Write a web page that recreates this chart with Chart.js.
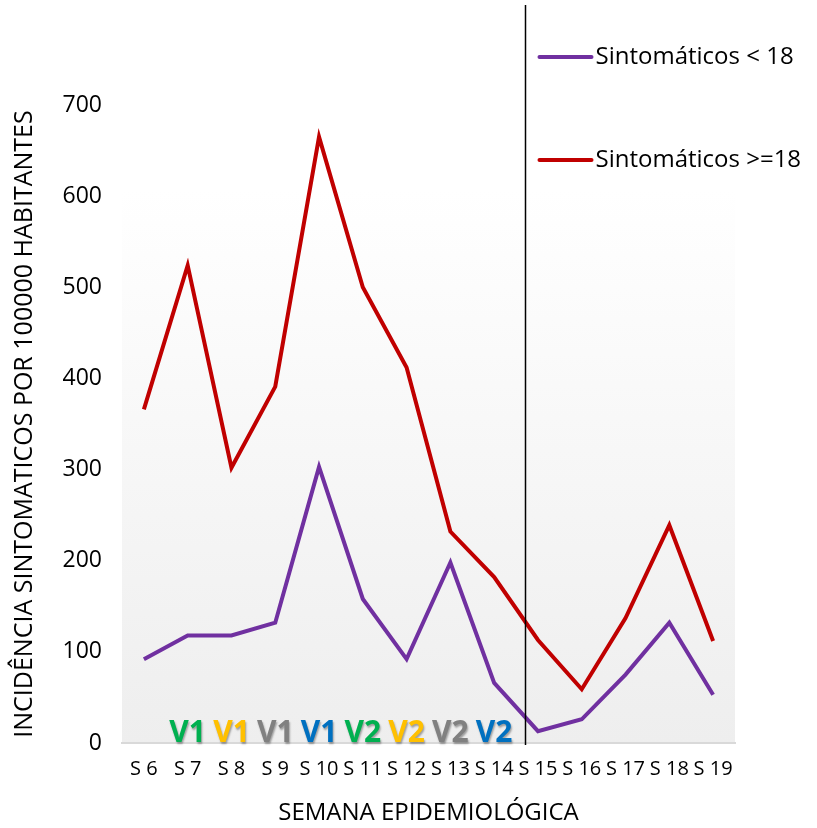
<!DOCTYPE html>
<html>
<head>
<meta charset="utf-8">
<script src="https://cdn.jsdelivr.net/npm/chart.js@4"></script>
<style>
  body { margin: 0; background: #fff; }
  #wrap { width: 817px; height: 828px; }
</style>
</head>
<body>
<div id="wrap"><canvas id="myChart"></canvas></div>
<script>
const semanas = ["S 6", "S 7", "S 8", "S 9", "S 10", "S 11", "S 12", "S 13", "S 14", "S 15", "S 16", "S 17", "S 18", "S 19"];
const menores18 = [92, 118, 118, 132, 303, 158, 92, 198, 66, 13, 26, 75, 132, 53];
const mayores18 = [366, 524, 302, 391, 665, 500, 412, 232, 182, 113, 59, 137, 239, 112];
const yTicks = [0, 100, 200, 300, 400, 500, 600, 700];

// vaccine labels under S7..S14
const vacunas = ["V1", "V1", "V1", "V1", "V2", "V2", "V2", "V2"];
const vacunaSemanas = ["S 7", "S 8", "S 9", "S 10", "S 11", "S 12", "S 13", "S 14"];
const vacunaColores = ["#00B050", "#FFC000", "#808080", "#0070C0", "#00B050", "#FFC000", "#808080", "#0070C0"];

const font = "'Open Sans', sans-serif";

const fondo = {
  id: "fondo",
  beforeDraw(chart) {
    const { ctx, chartArea: a } = chart;
    const top = a.top + 85;
    const g = ctx.createLinearGradient(0, top, 0, a.bottom);
    g.addColorStop(0, "#ffffff");
    g.addColorStop(1, "#eeeeee");
    ctx.save();
    ctx.fillStyle = g;
    ctx.fillRect(a.left, top, a.right - a.left, a.bottom - top);
    ctx.restore();
  }
};

const extras = {
  id: "extras",
  afterDatasetsDraw(chart) {
    const { ctx, chartArea: a, scales } = chart;
    const x = scales.x;
    ctx.save();
    // vaccine labels
    ctx.font = "bold 30px " + font;
    ctx.textAlign = "center";
    ctx.textBaseline = "alphabetic";
    vacunas.forEach((v, i) => {
      const px = x.getPixelForValue(semanas.indexOf(vacunaSemanas[i]));
      ctx.shadowColor = "rgba(0,0,0,0.35)";
      ctx.shadowOffsetX = 1;
      ctx.shadowOffsetY = 2;
      ctx.shadowBlur = 2;
      ctx.fillStyle = vacunaColores[i];
      ctx.fillText(v, px, a.bottom - 1);
    });
    ctx.shadowColor = "transparent";
    // vertical divider between S 14 and S 15
    const step = x.getPixelForValue(1) - x.getPixelForValue(0);
    const lx = Math.round(x.getPixelForValue(8) + 0.7 * step) + 0.5;
    ctx.strokeStyle = "#000";
    ctx.lineWidth = 1.5;
    ctx.beginPath();
    ctx.moveTo(lx, 5);
    ctx.lineTo(lx, a.bottom + 2);
    ctx.stroke();
    // legend
    const items = [
      { t: "Sintomáticos < 18", c: "#7030A0", yy: 57 },
      { t: "Sintomáticos >=18", c: "#C00000", yy: 160 }
    ];
    ctx.font = "24px " + font;
    ctx.textAlign = "left";
    ctx.textBaseline = "middle";
    items.forEach(it => {
      ctx.strokeStyle = it.c;
      ctx.lineWidth = 4;
      ctx.lineCap = "round";
      ctx.beginPath();
      ctx.moveTo(lx + 14, it.yy);
      ctx.lineTo(lx + 66, it.yy);
      ctx.stroke();
      ctx.fillStyle = "#000";
      ctx.fillText(it.t, lx + 70, it.yy);
    });
    ctx.restore();
  }
};

new Chart(document.getElementById("myChart"), {
  type: "line",
  data: {
    labels: semanas,
    datasets: [
      {
        label: "Sintomáticos < 18",
        data: menores18,
        borderColor: "#7030A0",
        borderWidth: 4,
        pointRadius: 0,
        tension: 0
      },
      {
        label: "Sintomáticos >=18",
        data: mayores18,
        borderColor: "#C00000",
        borderWidth: 4,
        pointRadius: 0,
        tension: 0
      }
    ]
  },
  options: {
    responsive: true,
    maintainAspectRatio: false,
    animation: false,
    layout: { padding: { top: 105, right: 82, left: 0, bottom: 0 } },
    plugins: {
      legend: { display: false },
      tooltip: { enabled: false }
    },
    scales: {
      x: {
        offset: true,
        grid: { display: false, drawTicks: false },
        border: { display: true, color: "#d9d9d9", width: 2 },
        ticks: {
          autoSkip: false,
          maxRotation: 0,
          minRotation: 0,
          padding: 14,
          color: "#000",
          font: { family: font, size: 20 }
        },
        title: {
          display: true,
          text: "SEMANA EPIDEMIOLÓGICA",
          color: "#000",
          font: { family: font, size: 24 },
          padding: { top: 10, bottom: 0 }
        },
        afterFit(s) { s.height = 85; }
      },
      y: {
        min: 0,
        max: 700,
        afterBuildTicks(s) { s.ticks = yTicks.map(v => ({ value: v })); },
        grid: { display: false, drawTicks: false },
        border: { display: false },
        ticks: {
          padding: 20,
          color: "#000",
          font: { family: font, size: 23 }
        },
        title: {
          display: true,
          text: "INCIDÊNCIA SINTOMATICOS POR 100000 HABITANTES",
          color: "#000",
          font: { family: font, size: 25 },
          padding: { top: 10, bottom: 2 }
        },
        afterFit(s) { s.width = 122; }
      }
    }
  },
  plugins: [fondo, extras]
});
</script>
</body>
</html>
